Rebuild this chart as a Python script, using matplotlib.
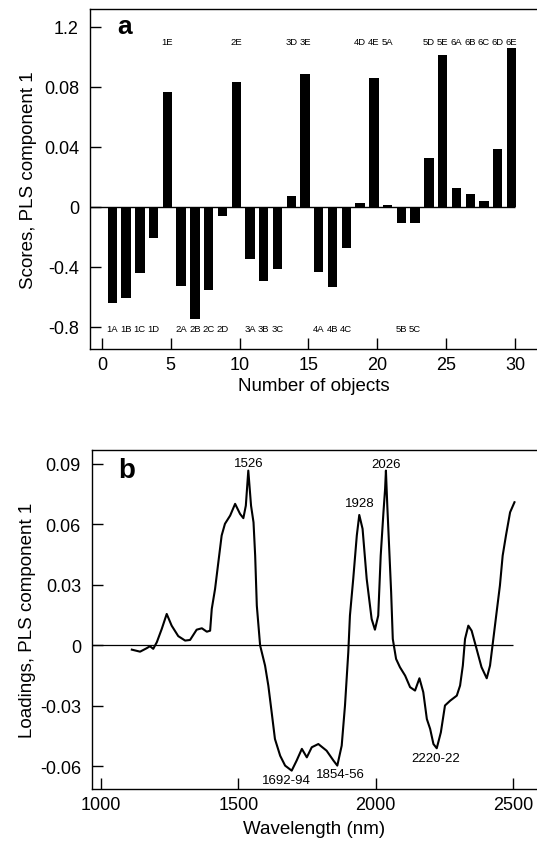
import matplotlib
matplotlib.use("Agg")
import matplotlib.pyplot as plt

plt.rcParams['font.family'] = ['Liberation Sans', 'DejaVu Sans']

# ---- panel a: scores of the 30 objects ----
objects = list(range(1, 31))
names = ['1A', '1B', '1C', '1D', '1E', '2A', '2B', '2C', '2D', '2E',
         '3A', '3B', '3C', '3D', '3E', '4A', '4B', '4C', '4D', '4E',
         '5A', '5B', '5C', '5D', '5E', '6A', '6B', '6C', '6D', '6E']
scores = [-0.064, -0.0607, -0.044, -0.0207, 0.0767, -0.0527, -0.0747, -0.0553, -0.006, 0.0833,
          -0.0347, -0.0493, -0.0413, 0.0073, 0.0887, -0.0433, -0.0533, -0.0273, 0.0027, 0.086,
          0.0013, -0.0107, -0.0107, 0.0327, 0.1013, 0.0127, 0.0087, 0.004, 0.0387, 0.106]
a_yticks = [0.12, 0.08, 0.04, 0, -0.04, -0.08]
a_yticklabels = ['1.2', '0.08', '0.04', '0', '-0.4', '-0.8']
a_xticks = [0, 5, 10, 15, 20, 25, 30]

# ---- panel b: loadings spectrum ----
wavelength = [1112, 1142, 1166, 1178, 1190, 1203, 1221, 1239, 1257, 1281, 1306, 1324, 1348, 1367,
              1385, 1397, 1403, 1415, 1427, 1439, 1451, 1470, 1488, 1506, 1518, 1527, 1536, 1546,
              1555, 1561, 1567, 1579, 1597, 1609, 1621, 1633, 1652, 1670, 1694, 1712, 1731, 1749,
              1767, 1791, 1821, 1846, 1860, 1876, 1888, 1900, 1906, 1918, 1931, 1940, 1952, 1967,
              1985, 1997, 2009, 2018, 2028, 2034, 2037, 2042, 2049, 2056, 2062, 2074, 2088, 2107,
              2125, 2143, 2159, 2173, 2186, 2198, 2210, 2222, 2237, 2252, 2271, 2295, 2307, 2317,
              2325, 2337, 2349, 2367, 2385, 2404, 2416, 2428, 2440, 2452, 2462, 2474, 2489, 2505]
loadings = [-0.0021, -0.0031, -0.0014, -0.0004, -0.0017, 0.0016, 0.0082, 0.0156, 0.0098, 0.0046,
            0.0024, 0.0027, 0.0078, 0.0085, 0.0068, 0.0073, 0.0181, 0.028, 0.0413, 0.0545,
            0.0603, 0.0644, 0.0702, 0.0652, 0.0631, 0.0693, 0.0867, 0.0693, 0.061, 0.0445,
            0.0197, 0.0, -0.010, -0.020, -0.0331, -0.0464, -0.0547, -0.0596, -0.0621, -0.0571,
            -0.0513, -0.0555, -0.0505, -0.0489, -0.0522, -0.0571, -0.0596, -0.0497, -0.0298, -0.0034,
            0.0148, 0.033, 0.0545, 0.0647, 0.0578, 0.033, 0.0131, 0.0078, 0.0148, 0.0445,
            0.066, 0.0776, 0.0867, 0.0693, 0.0479, 0.0264, 0.0032, -0.0067, -0.0108, -0.015,
            -0.0207, -0.0224, -0.0163, -0.0232, -0.0365, -0.0414, -0.0489, -0.051, -0.0431, -0.0298,
            -0.0274, -0.0249, -0.0199, -0.010, 0.0032, 0.0098, 0.0073, -0.0017, -0.0108, -0.0163,
            -0.010, 0.0032, 0.0165, 0.0297, 0.0445, 0.0545, 0.066, 0.071]
peak_labels = ['1526', '1928', '2026', '1692-94', '1854-56', '2220-22']
peak_x = [1536, 1940, 2036, 1675, 1870, 2218]
peak_y = [0.0905, 0.0705, 0.0900, -0.0665, -0.0640, -0.0560]
b_yticks = [0.09, 0.06, 0.03, 0, -0.03, -0.06]
b_yticklabels = ['0.09', '0.06', '0.03', '0', '-0.03', '-0.06']
b_xticks = [1000, 1500, 2000, 2500]

W, H = 537, 845
fig = plt.figure(figsize=(W / 100, H / 100), dpi=100)

def style(ax):
    ax.spines['right'].set_visible(False)
    for s in ['left', 'bottom', 'top']:
        ax.spines[s].set_linewidth(1.0)
    ax.tick_params(axis='both', direction='in', length=8, width=1.0,
                   labelsize=13, right=False, top=False)
    ax.tick_params(axis='y', pad=8)
    ax.tick_params(axis='x', pad=5)

# panel a
axa = fig.add_axes([90 / W, 1 - 350 / H, 1 - 90 / W, 340 / H])
xs = [n - 0.25 for n in objects]
axa.bar(xs, scores, width=0.68, color='black')
axa.hlines(0, -0.9, 30, color='black', lw=1.0)
for x, v, nm in zip(xs, scores, names):
    y = 0.110 if v > 0 else -0.0807
    axa.text(x, y, nm, ha='center', va='center', fontsize=6.8)
axa.set_xlim(-0.87, 31.6)
axa.set_ylim(-0.0947, 0.132)
axa.set_yticks(a_yticks)
axa.set_yticklabels(a_yticklabels)
axa.set_xticks(a_xticks)
style(axa)
axa.set_xlabel('Number of objects', fontsize=13.5, labelpad=3)
axa.set_ylabel('Scores, PLS component 1', fontsize=13.5, labelpad=5)
axa.text(0.062, 0.95, 'a', transform=axa.transAxes, fontsize=19,
         fontweight='bold', ha='left', va='center')

# panel b
axb = fig.add_axes([92 / W, 1 - 790 / H, 1 - 92 / W, 339 / H])
axb.plot(wavelength, loadings, color='black', lw=1.5)
axb.hlines(0, 967, 2500, color='black', lw=0.9)
for lab, x, y in zip(peak_labels, peak_x, peak_y):
    axb.text(x, y, lab, ha='center', va='center', fontsize=9.5)
axb.set_xlim(967, 2587)
axb.set_ylim(-0.0712, 0.0969)
axb.set_yticks(b_yticks)
axb.set_yticklabels(b_yticklabels)
axb.set_xticks(b_xticks)
style(axb)
axb.set_xlabel('Wavelength (nm)', fontsize=13.5, labelpad=5)
axb.set_ylabel('Loadings, PLS component 1', fontsize=13.5, labelpad=3)
axb.text(0.06, 0.94, 'b', transform=axb.transAxes, fontsize=20,
         fontweight='bold', ha='left', va='center')

fig.savefig('out.png', dpi=100)
